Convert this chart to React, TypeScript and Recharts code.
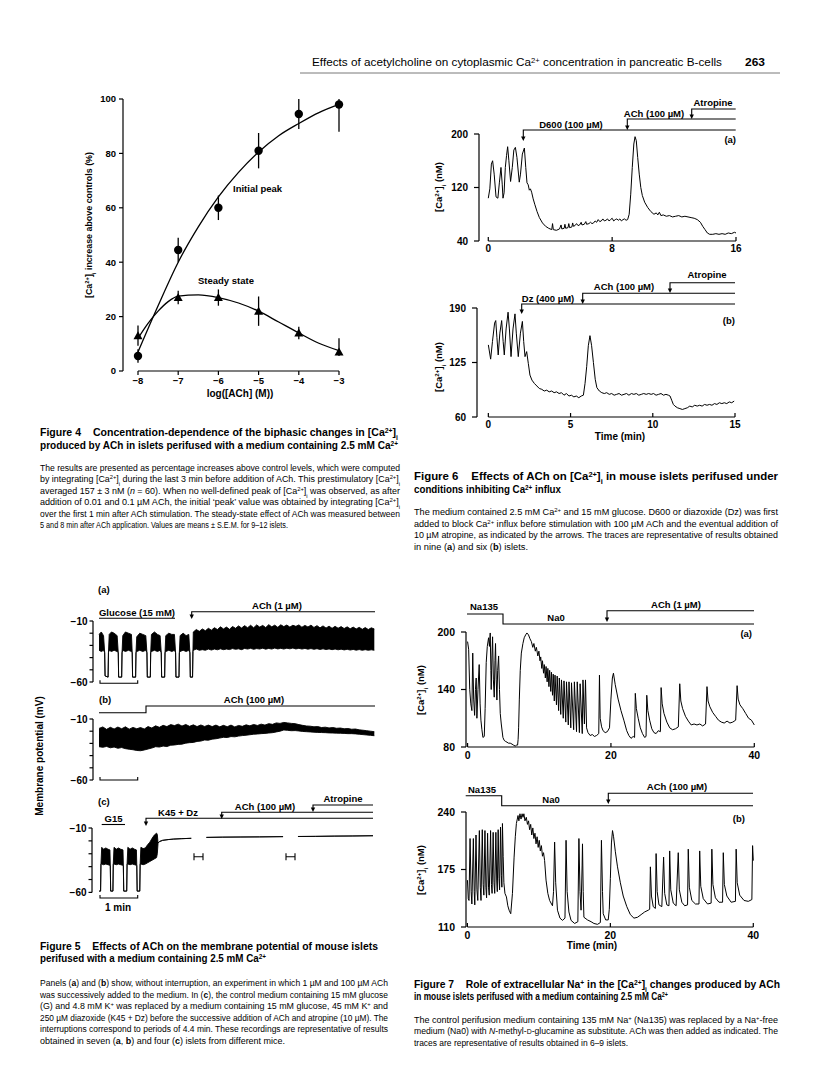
import React from "react";
import {
  Area,
  ComposedChart,
  ErrorBar,
  Line,
  LineChart,
  ReferenceLine,
  Scatter,
  XAxis,
  YAxis,
} from "recharts";

// ---------- Figure 4 ----------
const logAch = [-8, -7, -6, -5, -4, -3];
const peakMean = [5.5, 44.5, 60, 81, 94.5, 98];
const peakSemLow = [2.5, 4.5, 4.5, 6.5, 5.5, 10];
const peakSemHigh = [2.5, 4.5, 4.5, 6.5, 5.5, 2];
const steadyMean = [13, 27, 27, 22, 14, 7];
const steadySemLow = [3.7, 2.5, 3, 5.4, 2.3, 1.5];
const steadySemHigh = [3.7, 2.5, 3, 5.4, 2.3, 5];
const fitX = [-8, -7.5, -7, -6.5, -6, -5.5, -5, -4.5, -4, -3.5, -3];
const peakFit = [7, 24, 40, 53, 64, 73, 80.5, 86.5, 91, 95, 98];
const steadyFitX = [-8, -7.75, -7.5, -7.25, -7, -6.5, -6, -5.5, -5, -4.5, -4, -3.5, -3];
const steadyFit = [12, 17.5, 22, 25.5, 27.5, 28, 27, 25, 22, 18, 14, 10.2, 7.5];

// ---------- Figure 6 ----------
const ca6a = [
  [0, 104], [0.1, 118], [0.2, 155], [0.28, 160], [0.38, 140], [0.5, 106], [0.62, 104], [0.72, 128],
  [0.82, 150], [0.9, 125], [0.95, 104], [1.02, 112], [1.1, 150], [1.18, 168], [1.25, 181], [1.33, 160],
  [1.44, 129], [1.55, 150], [1.65, 176], [1.75, 180], [1.85, 165], [2.0, 128], [2.08, 140], [2.2, 170],
  [2.33, 179], [2.42, 150], [2.5, 127], [2.58, 124], [2.65, 116], [2.72, 118], [2.8, 113], [2.9, 103],
  [3.0, 95], [3.15, 84], [3.3, 75], [3.5, 67], [3.7, 62], [3.9, 59], [4.1, 57], [4.15, 66], [4.2, 57],
  [4.4, 56], [4.6, 58], [4.7, 64], [4.75, 58], [4.9, 59], [4.95, 65], [5.0, 59], [5.15, 60], [5.2, 66],
  [5.25, 60], [5.4, 61], [5.45, 67], [5.5, 62], [5.6, 63], [5.7, 66], [5.8, 63], [5.9, 64], [6.0, 68],
  [6.05, 64], [6.2, 65], [6.3, 69], [6.35, 65], [6.5, 66], [6.6, 68], [6.7, 66], [6.8, 67], [6.9, 70],
  [7.0, 68], [7.1, 72], [7.2, 69], [7.3, 70], [7.4, 73], [7.5, 70], [7.6, 71], [7.7, 73], [7.8, 70],
  [7.9, 72], [8.0, 74], [8.1, 70], [8.2, 72], [8.3, 73], [8.4, 71], [8.5, 73], [8.6, 70], [8.7, 72],
  [8.8, 73], [8.9, 71], [9.0, 72], [9.1, 80], [9.2, 110], [9.3, 150], [9.4, 185], [9.48, 196], [9.56, 190],
  [9.65, 165], [9.75, 140], [9.85, 120], [9.95, 108], [10.1, 98], [10.3, 90], [10.5, 84], [10.7, 80],
  [10.85, 82], [10.95, 79], [11.05, 83], [11.15, 78], [11.3, 79], [11.5, 77], [11.7, 78], [11.9, 76],
  [12.1, 77], [12.3, 78], [12.5, 76], [12.7, 77], [12.9, 76], [13.1, 75], [13.3, 74], [13.5, 72],
  [13.7, 68], [13.85, 62], [14.0, 57], [14.15, 52], [14.3, 50], [14.5, 50], [14.7, 51], [14.9, 50],
  [15.1, 51], [15.3, 50], [15.5, 52], [15.7, 51], [15.9, 53], [16.0, 52],
];
const ca6b = [
  [0, 146], [0.14, 129], [0.25, 150], [0.38, 172], [0.45, 175], [0.52, 155], [0.6, 134], [0.7, 160],
  [0.81, 175], [0.9, 150], [0.97, 134], [1.08, 165], [1.2, 185], [1.28, 165], [1.38, 132], [1.5, 165],
  [1.62, 183], [1.7, 160], [1.82, 132], [1.95, 160], [2.07, 174], [2.15, 150], [2.23, 132], [2.33, 138],
  [2.43, 124], [2.53, 110], [2.65, 104], [2.8, 100], [2.95, 97], [3.1, 94], [3.25, 93], [3.4, 91],
  [3.55, 92], [3.7, 90], [3.85, 91], [4.0, 89], [4.15, 90], [4.3, 88], [4.45, 89], [4.6, 86], [4.75, 88],
  [4.9, 85], [5.05, 86], [5.2, 84], [5.35, 85], [5.5, 83], [5.65, 85], [5.78, 86], [5.88, 100], [5.98, 120],
  [6.08, 145], [6.18, 157], [6.28, 145], [6.39, 125], [6.5, 105], [6.6, 95], [6.75, 91], [6.9, 89],
  [7.05, 88], [7.2, 89], [7.35, 87], [7.5, 88], [7.65, 86], [7.8, 87], [7.95, 88], [8.1, 86], [8.25, 87],
  [8.4, 88], [8.55, 86], [8.7, 88], [8.85, 87], [9.0, 88], [9.15, 86], [9.3, 87], [9.45, 88], [9.6, 87],
  [9.75, 88], [9.9, 87], [10.05, 88], [10.2, 86], [10.35, 87], [10.5, 88], [10.65, 86], [10.8, 87],
  [10.95, 86], [11.05, 85], [11.15, 80], [11.25, 75], [11.35, 73], [11.5, 71], [11.65, 70], [11.8, 69],
  [11.95, 70], [12.1, 71], [12.25, 73], [12.4, 72], [12.55, 74], [12.7, 73], [12.85, 74], [13.0, 73],
  [13.15, 75], [13.3, 74], [13.45, 75], [13.6, 74], [13.75, 76], [13.9, 75], [14.05, 77], [14.2, 76],
  [14.35, 77], [14.5, 76], [14.65, 78], [14.8, 77], [14.95, 79],
];

// ---------- Figure 5 (membrane potential, [t, low, high]) ----------
const mp5a = [
  [0, -34, -21], [0.06, -35, -19], [0.12, -34, -22], [0.15, -36, -36], [0.16, -55, -55], [0.24, -56, -56],
  [0.25, -36, -36], [0.27, -34, -21], [0.33, -35, -19], [0.4, -34, -20], [0.48, -35, -22], [0.51, -36, -36],
  [0.52, -56, -56], [0.6, -56, -56], [0.61, -36, -36], [0.63, -34, -22], [0.7, -35, -19], [0.78, -34, -20],
  [0.86, -35, -21], [0.88, -36, -36], [0.89, -56, -56], [0.97, -56, -56], [0.98, -36, -36], [1.0, -35, -23],
  [1.08, -34, -20], [1.16, -35, -21], [1.24, -34, -22], [1.27, -36, -36], [1.28, -56, -56], [1.36, -56, -56],
  [1.37, -36, -36], [1.39, -35, -21], [1.47, -34, -19], [1.55, -35, -21], [1.62, -34, -22], [1.65, -36, -36],
  [1.66, -56, -56], [1.74, -56, -56], [1.75, -36, -36], [1.77, -35, -22], [1.85, -34, -20], [1.93, -35, -21],
  [2.0, -34, -21], [2.03, -36, -36], [2.04, -56, -56], [2.12, -56, -56], [2.13, -36, -36], [2.15, -35, -22],
  [2.23, -34, -20], [2.31, -35, -22], [2.38, -34, -21], [2.41, -36, -36], [2.42, -56, -56], [2.48, -56, -56],
  [2.49, -35, -35], [2.5, -34, -19], [2.58, -33, -17], [2.66, -34, -18.5], [2.74, -33.5, -16.5],
  [2.82, -34, -18], [2.9, -33, -16], [2.98, -33.8, -17.5], [3.06, -33, -15.5], [3.14, -33.6, -17],
  [3.22, -32.8, -14.8], [3.3, -33.5, -16.5], [3.38, -33, -15], [3.46, -33.4, -16.8], [3.54, -32.6, -14.5],
  [3.62, -33.2, -16], [3.7, -32.8, -14], [3.78, -33.5, -15.8], [3.86, -32.5, -13.8], [3.94, -33, -15.5],
  [4.02, -32.4, -13.5], [4.1, -33.2, -15.6], [4.18, -32.6, -13.2], [4.26, -33, -15], [4.34, -32.3, -13.6],
  [4.42, -33.1, -15.4], [4.5, -32.5, -13], [4.58, -33, -14.8], [4.66, -32.2, -13.4], [4.74, -32.9, -15.2],
  [4.82, -32.4, -13.1], [4.9, -33, -14.6], [4.98, -32.3, -13.3], [5.06, -32.8, -15], [5.14, -32.2, -13.5],
  [5.22, -32.9, -14.4], [5.3, -32.4, -13.2], [5.38, -33, -15.1], [5.46, -32.5, -13.6], [5.54, -33.1, -14.9],
  [5.62, -32.6, -13.4], [5.7, -33.2, -15.3], [5.78, -32.7, -13.8], [5.86, -33.3, -15.6], [5.94, -32.8, -14],
  [6.02, -33.4, -15.8], [6.1, -32.9, -14.2], [6.18, -33.5, -16], [6.26, -33, -14.4], [6.34, -33.6, -15.9],
  [6.42, -33.1, -14.6], [6.5, -33.7, -16.2], [6.58, -33.2, -14.8], [6.66, -33.8, -16.4], [6.74, -33.3, -15],
  [6.82, -33.9, -16.5], [6.9, -33.4, -15.2], [6.98, -34, -16.8], [7.06, -33.5, -15.4], [7.14, -34, -17],
  [7.22, -33.6, -15.6], [7.3, -34, -16.5],
];
const mp5b = [
  [0, -32.7, -17.7], [0.1, -33.2, -16.5], [0.2, -32.5, -18.5], [0.3, -33.6, -16.8], [0.4, -33, -18.2],
  [0.5, -34, -16.6], [0.6, -33.4, -18], [0.7, -34.3, -16.4], [0.8, -34.8, -18.3], [0.9, -35.2, -16.9],
  [1.0, -35.8, -18], [1.1, -36, -17], [1.2, -35.4, -18.2], [1.3, -34.6, -16.2], [1.4, -33.8, -17.4],
  [1.5, -32.7, -15.6], [1.6, -33, -16.8], [1.7, -32.2, -15.2], [1.8, -32.6, -16.2], [1.9, -31.5, -14.6],
  [2.0, -31.3, -15.4], [2.1, -30.8, -14.2], [2.2, -30.6, -15.8], [2.3, -29.8, -14.5], [2.4, -29.4, -16],
  [2.5, -29.2, -14.8], [2.6, -28.4, -16.2], [2.7, -28.1, -14.9], [2.8, -27.2, -16.1], [2.9, -27.4, -15],
  [3.0, -26.5, -16.2], [3.1, -26.2, -15], [3.2, -25.6, -16.4], [3.3, -25, -15.2], [3.4, -25.2, -16.3],
  [3.5, -24.4, -15], [3.6, -24.6, -16.5], [3.7, -24, -15.3], [3.8, -23.6, -16], [3.9, -23.3, -14.8],
  [4.0, -22.9, -15.6], [4.1, -22.5, -14.5], [4.2, -22.3, -15.3], [4.3, -22, -14.2], [4.4, -21.8, -15],
  [4.5, -21.5, -13.8], [4.6, -21.2, -14.4], [4.7, -20.6, -13.2], [4.8, -20, -13.6], [4.9, -19, -12.8],
  [5.0, -19.3, -13.2], [5.1, -19.6, -13.6], [5.2, -19.5, -13.8], [5.3, -19.8, -14.6], [5.4, -20.2, -15.2],
  [5.5, -20.4, -15.7], [5.6, -20.6, -15.9], [5.7, -20.8, -16.4], [5.8, -21, -16.2], [5.9, -21.1, -17],
  [6.0, -21.2, -16.7], [6.1, -21.4, -17.3], [6.2, -21.5, -17], [6.3, -21.6, -17.6], [6.4, -21.7, -17.4],
  [6.5, -21.8, -18], [6.6, -22, -17.8], [6.7, -22, -18.4], [6.8, -22.2, -18.2], [6.9, -22.5, -18.9],
  [7.0, -22.8, -19.2], [7.1, -23.1, -19.6], [7.2, -23.4, -20], [7.3, -23.7, -20.4],
];
const mp5c = [
  [0, -59, -59], [0.04, -59, -59], [0.05, -38, -38], [0.07, -38, -25], [0.12, -38.5, -26.5], [0.18, -38, -25.5],
  [0.24, -38.5, -26.5], [0.29, -39, -27], [0.3, -39, -39], [0.31, -59, -59], [0.37, -59, -59], [0.38, -38, -38],
  [0.4, -38, -25], [0.46, -38.5, -26.5], [0.52, -38, -25.5], [0.58, -38.5, -26.5], [0.64, -39, -27],
  [0.65, -39, -39], [0.66, -59, -59], [0.74, -59, -59], [0.75, -38, -38], [0.77, -38, -25], [0.83, -38.5, -26.5],
  [0.89, -38, -25.5], [0.95, -38.5, -26.5], [1.0, -39, -27], [1.01, -39, -39], [1.02, -59, -59], [1.09, -59, -59],
  [1.1, -38, -38], [1.12, -38, -25], [1.18, -38.5, -26], [1.24, -38, -25.5], [1.3, -37, -23], [1.36, -36, -21],
  [1.42, -35, -18], [1.48, -34, -15.5], [1.54, -33, -14], [1.56, -30, -15], [1.58, -21.7, -21.7],
  [1.62, -20.5, -20.5], [1.7, -19.6, -19.6], [1.85, -19, -19], [2.0, -18.6, -18.6], [2.2, -18.3, -18.3],
  [2.47, -18, -18], [2.48, null, null], [2.87, null, null], [2.875, -17.3, -17.3], [3.3, -17.1, -17.1],
  [3.8, -17, -17], [4.3, -16.9, -16.9], [4.93, -16.7, -16.7], [4.94, null, null], [5.32, null, null],
  [5.33, -16.6, -16.6], [5.8, -16.5, -16.5], [6.3, -16.3, -16.3], [6.8, -16.2, -16.2], [7.34, -16, -16],
];

// ---------- Figure 7 ----------
const ca7a = [
  [0, 190], [0.15, 182], [0.3, 140], [0.45, 125], [0.6, 118], [0.72, 178], [0.85, 130], [0.98, 113],
  [1.1, 140], [1.2, 152], [1.3, 110], [1.45, 140], [1.62, 166], [1.75, 125], [1.86, 108], [2.0, 98],
  [2.14, 90], [2.33, 91], [2.45, 120], [2.6, 168], [2.75, 185], [2.93, 194], [3.05, 185], [3.16, 199],
  [3.25, 160], [3.3, 140], [3.4, 175], [3.49, 195], [3.6, 150], [3.72, 132], [3.82, 170], [3.9, 188],
  [4.0, 150], [4.09, 129], [4.2, 160], [4.33, 175], [4.45, 140], [4.56, 115], [4.7, 104], [4.93, 90],
  [5.1, 87], [5.26, 86], [5.5, 85], [5.7, 84], [5.95, 84], [6.2, 83], [6.4, 82], [6.65, 81], [6.85, 82],
  [6.98, 82], [7.05, 88], [7.12, 100], [7.22, 130], [7.35, 160], [7.5, 178], [7.72, 188], [7.9, 194],
  [8.1, 197], [8.28, 199], [8.5, 197], [8.7, 193], [8.9, 190], [9.1, 184], [9.25, 188], [9.45, 180],
  [9.6, 184], [9.8, 175], [9.95, 180], [10.1, 170], [10.2, 174], [10.35, 162], [10.45, 170], [10.6, 157],
  [10.7, 166], [10.85, 152], [10.95, 164], [11.1, 148], [11.2, 162], [11.35, 143], [11.45, 160], [11.6, 138],
  [11.7, 158], [11.85, 134], [11.95, 156], [12.1, 128], [12.2, 155], [12.4, 124], [12.5, 154], [12.7, 118],
  [12.8, 152], [13.0, 114], [13.1, 150], [13.35, 110], [13.45, 149], [13.7, 106], [13.8, 148], [14.05, 103],
  [14.15, 148], [14.4, 100], [14.5, 147], [14.8, 98], [14.9, 148], [15.2, 96], [15.3, 148], [15.6, 95],
  [15.7, 146], [16.0, 94], [16.1, 150], [16.3, 104], [16.45, 150], [16.6, 100], [16.8, 95], [17.1, 92],
  [17.4, 93], [17.7, 91], [18.0, 92], [18.3, 94], [18.4, 155], [18.5, 110], [18.7, 101], [18.9, 97],
  [19.2, 95], [19.5, 96], [19.8, 100], [20.0, 130], [20.2, 152], [20.35, 157], [20.6, 145], [21.0, 130],
  [21.4, 118], [21.8, 108], [22.2, 97], [22.5, 92], [22.8, 89], [23.1, 91], [23.3, 90], [23.4, 136],
  [23.55, 120], [23.8, 110], [24.1, 100], [24.4, 94], [24.7, 90], [24.9, 91], [25.0, 134], [25.15, 118],
  [25.4, 108], [25.7, 99], [26.0, 95], [26.3, 94], [26.6, 97], [26.9, 96], [27.0, 142], [27.15, 125],
  [27.4, 115], [27.8, 106], [28.2, 100], [28.6, 98], [29.0, 99], [29.4, 101], [29.6, 146], [29.75, 128],
  [30.0, 120], [30.4, 112], [30.8, 107], [31.2, 103], [31.6, 104], [32.0, 103], [32.4, 104], [32.8, 102],
  [33.2, 104], [33.4, 143], [33.55, 128], [33.8, 122], [34.2, 116], [34.6, 112], [35.0, 108], [35.4, 106],
  [35.8, 105], [36.2, 107], [36.6, 105], [37.0, 106], [37.4, 108], [37.6, 144], [37.75, 130], [38.0, 124],
  [38.4, 120], [38.8, 115], [39.2, 110], [39.6, 108], [40.0, 103],
];
const ca7b = [
  [0, 163], [0.12, 142], [0.22, 140], [0.37, 210], [0.52, 150], [0.62, 136], [0.83, 210], [0.95, 150],
  [1.03, 135], [1.2, 214], [1.33, 152], [1.45, 140], [1.67, 219], [1.8, 155], [1.9, 140], [2.08, 220],
  [2.2, 158], [2.3, 146], [2.45, 219], [2.58, 155], [2.68, 143], [2.82, 216], [2.95, 155], [3.05, 146],
  [3.24, 219], [3.36, 158], [3.45, 148], [3.6, 217], [3.72, 160], [3.82, 148], [3.98, 217], [4.1, 162],
  [4.18, 150], [4.3, 220], [4.42, 165], [4.5, 152], [4.63, 223], [4.75, 168], [4.82, 155], [4.9, 227],
  [5.0, 190], [5.1, 160], [5.25, 148], [5.46, 144], [5.65, 134], [5.83, 129], [6.06, 125], [6.3, 148],
  [6.53, 189], [6.7, 212], [6.85, 227], [7.08, 236], [7.2, 230], [7.35, 238], [7.5, 232], [7.65, 238],
  [7.78, 234], [7.9, 238], [8.05, 230], [8.24, 234], [8.4, 226], [8.55, 230], [8.7, 220], [8.85, 226],
  [9.0, 214], [9.15, 222], [9.3, 210], [9.45, 216], [9.6, 204], [9.75, 212], [9.9, 200], [10.05, 208],
  [10.2, 196], [10.35, 202], [10.5, 190], [10.65, 194], [10.8, 185], [11.0, 163], [11.25, 148], [11.5, 140],
  [11.9, 134], [12.05, 150], [12.2, 206], [12.35, 160], [12.6, 129], [12.95, 120], [13.3, 117.5], [13.65, 120],
  [13.8, 208], [13.95, 150], [14.2, 127], [14.5, 117.5], [15.0, 114], [15.45, 116], [15.6, 210], [15.75, 150],
  [15.9, 129], [16.05, 180], [16.1, 204], [16.2, 150], [16.3, 121], [16.8, 118], [17.3, 116], [17.7, 114],
  [18.2, 113], [18.6, 115], [18.75, 208], [18.9, 150], [19.0, 125], [19.35, 118], [19.7, 118], [19.85, 130],
  [20.0, 165], [20.15, 205], [20.3, 219], [20.45, 212], [20.7, 195], [21.0, 178], [21.4, 160], [21.8, 145],
  [22.3, 133], [22.8, 124], [23.3, 120], [23.8, 121], [24.3, 124], [24.8, 127], [25.3, 129], [25.5, 130],
  [25.6, 178], [25.75, 145], [26.0, 133], [26.3, 131], [26.4, 193], [26.55, 150], [26.8, 135], [27.2, 133],
  [27.45, 189], [27.6, 148], [27.9, 135], [28.2, 134], [28.3, 196], [28.45, 152], [28.8, 137], [29.2, 134],
  [29.5, 194], [29.65, 152], [30.0, 138], [30.4, 134], [30.8, 135], [30.9, 198], [31.05, 155], [31.4, 140],
  [31.9, 136], [32.4, 136], [32.5, 196], [32.65, 156], [33.0, 142], [33.6, 136], [34.1, 137], [34.2, 198],
  [34.35, 158], [34.7, 143], [35.2, 138], [35.7, 138], [35.8, 194], [35.95, 158], [36.3, 145], [36.9, 138],
  [37.5, 139], [37.6, 198], [37.75, 160], [38.1, 146], [38.7, 140], [39.3, 139], [39.8, 141], [39.9, 202],
  [40.0, 185],
];

const peakPts = logAch.map((x, i) => ({ x, y: peakMean[i], e: [peakSemLow[i], peakSemHigh[i]] }));
const steadyPts = logAch.map((x, i) => ({ x, y: steadyMean[i], e: [steadySemLow[i], steadySemHigh[i]] }));
const peakCurve = fitX.map((x, i) => ({ x, y: peakFit[i] }));
const steadyCurve = steadyFitX.map((x, i) => ({ x, y: steadyFit[i] }));
const toTrace = (a) => a.map(([t, v]) => ({ t, v }));
const toBand = (a) => a.map(([t, lo, hi]) => ({ t, band: lo == null ? null : [lo, hi] }));

const SANS = "'Liberation Sans', Arial, Helvetica, sans-serif";
const NARROW = "'Liberation Sans Narrow', 'Liberation Sans', Arial, sans-serif";
const PL = 60, PR = 12, PT = 12, PB = 30;
const ax = { stroke: "#000", strokeWidth: 1.2 };
const tk = (s) => ({ fill: "#000", fontSize: s, fontWeight: 700, fontFamily: SANS });
const minus = (v) => (v < 0 ? "\u2212" + -v : String(v));

function Frame({ box, children }) {
  return <div style={{ position: "absolute", left: box[0] - PL, top: box[1] - PT }}>{children}</div>;
}
const dims = (b) => ({ width: b[2] - b[0] + PL + PR, height: b[3] - b[1] + PT + PB });

function CaTrace({ box, data, xDomain, xTicks, yDomain, yTicks, fs, xMargin }) {
  return (
    <Frame box={box}>
      <LineChart {...dims(box)} data={toTrace(data)} margin={{ top: PT, right: PR, bottom: 0, left: 0 }}>
        <XAxis dataKey="t" type="number" domain={xDomain} ticks={xTicks} interval={0} height={PB}
          axisLine={false} tickLine={ax} tickSize={-4} tickMargin={xMargin} tick={tk(fs)} />
        <YAxis type="number" domain={yDomain} ticks={yTicks} interval={0} width={PL}
          axisLine={ax} tickLine={ax} tickSize={5} tickMargin={6} tick={tk(fs)} />
        <ReferenceLine segment={[{ x: 0, y: yDomain[0] }, { x: xTicks[xTicks.length - 1], y: yDomain[0] }]} stroke="#000" strokeWidth={1.2} />
        <Line dataKey="v" type="linear" stroke="#000" strokeWidth={1} dot={false} activeDot={false} isAnimationActive={false} />
      </LineChart>
    </Frame>
  );
}

function MpTrace({ box, data, xDomain }) {
  return (
    <Frame box={box}>
      <ComposedChart {...dims(box)} data={toBand(data)} margin={{ top: PT, right: PR, bottom: PB, left: 0 }}>
        <XAxis dataKey="t" type="number" domain={xDomain} hide />
        <YAxis type="number" domain={[-60, -10]} ticks={[-60, -50, -40, -30, -20, -10]} interval={0} width={PL}
          axisLine={ax} tickLine={ax} tickSize={3.5} tickMargin={2} tick={tk(10)}
          tickFormatter={(v) => (v === -10 || v === -60 ? minus(v) : "")} />
        <Area dataKey="band" type="linear" stroke="#000" strokeWidth={0.9} fill="#000" fillOpacity={1}
          dot={false} activeDot={false} isAnimationActive={false} />
      </ComposedChart>
    </Frame>
  );
}

const Sup = ({ c }) => <tspan baselineShift="super" fontSize="65%">{c}</tspan>;
const Sub = ({ c }) => <tspan baselineShift="sub" fontSize="65%">{c}</tspan>;
const Ca = () => (<>[Ca<Sup c="2+" />]<Sub c="i" /></>);
const Fig = ({ n }) => (<>Figure {n}<tspan dx={9}> </tspan></>);

function T({ x, y, s = 9.5, w = 700, a = "start", f = SANS, len, rot, children }) {
  return (
    <text x={x} y={y} fontSize={s} fontWeight={w} textAnchor={a} fontFamily={f} fill="#000"
      textLength={len} lengthAdjust={len ? "spacingAndGlyphs" : undefined}
      transform={rot ? `rotate(-90 ${x} ${y})` : undefined}>{children}</text>
  );
}
function Drug({ x1, x2, y, to }) {
  return (
    <g>
      <polyline points={`${x2},${y} ${x1},${y} ${x1},${to - 3}`} fill="none" stroke="#000" strokeWidth={1.1} />
      <polygon points={`${x1 - 2.2},${to - 4.5} ${x1 + 2.2},${to - 4.5} ${x1},${to}`} fill="#000" />
    </g>
  );
}
const Scale = ({ y }) => <path d={`M100,${y - 3} V${y} H137.7 V${y - 3}`} fill="none" stroke="#000" strokeWidth={1.1} />;
const Gap = ({ x, y }) => <path d={`M${x},${y - 3.5} V${y + 3.5} M${x},${y} H${x + 9} M${x + 9},${y - 3.5} V${y + 3.5}`} stroke="#000" strokeWidth={1.1} fill="none" />;

const B = ({ c }) => <tspan fontWeight={700}>{c}</tspan>;

function Overlay() {
  const cap = { s: 9.6, w: 400, f: NARROW };
  const ttl = { s: 10.6, w: 700, f: NARROW };
  return (
    <svg width={816} height={1089} style={{ position: "absolute", left: 0, top: 0, pointerEvents: "none" }}>
      {/* running head */}
      <T x={312} y={66} s={10.5} w={400} f={NARROW} len={410}>Effects of acetylcholine on cytoplasmic Ca<Sup c="2+" /> concentration in pancreatic B-cells</T>
      <T x={745} y={66} s={10.5} w={700} len={20}>263</T>
      <line x1={300} y1={73} x2={780} y2={73} stroke="#555" strokeWidth={0.8} />

      {/* Figure 4 labels */}
      <T x={91.7} y={225} rot a="middle" len={146}><Ca /> increase above controls (%)</T>
      <T x={240} y={397} a="middle" s={10}>log([ACh] (M))</T>
      <T x={233} y={191.5}>Initial peak</T>
      <T x={198} y={283.5}>Steady state</T>

      {/* Figure 4 caption */}
      <T x={40} y={435.5} {...ttl} len={358}><Fig n={4} />Concentration-dependence of the biphasic changes in <Ca /></T>
      <T x={40} y={448.5} {...ttl} len={358}>produced by ACh in islets perifused with a medium containing 2.5 mM Ca<Sup c="2+" /></T>
      <T x={40} y={470.5} {...cap} len={360}>The results are presented as percentage increases above control levels, which were computed</T>
      <T x={40} y={482} {...cap} len={360}>by integrating <Ca /> during the last 3 min before addition of ACh. This prestimulatory <Ca /></T>
      <T x={40} y={493.5} {...cap} len={360}>averaged 157 ± 3 nM (<tspan fontStyle="italic">n</tspan> = 60). When no well-defined peak of <Ca /> was observed, as after</T>
      <T x={40} y={505} {...cap} len={360}>addition of 0.01 and 0.1 µM ACh, the initial ‘peak’ value was obtained by integrating <Ca /></T>
      <T x={40} y={516.5} {...cap} len={360}>over the first 1 min after ACh stimulation. The steady-state effect of ACh was measured between</T>
      <T x={40} y={528} {...cap} len={248}>5 and 8 min after ACh application. Values are means ± S.E.M. for 9–12 islets.</T>

      {/* Figure 6 labels */}
      <T x={441.7} y={187} rot a="middle"><Ca /> (nM)</T>
      <T x={441.7} y={367} rot a="middle"><Ca /> (nM)</T>
      <Drug x1={523.3} x2={735.7} y={130} to={141} />
      <Drug x1={627.3} x2={735.7} y={119} to={130} />
      <Drug x1={691.7} x2={735.7} y={109} to={119} />
      <T x={571} y={127.5} a="middle">D600 (100 µM)</T>
      <T x={654} y={116.5} a="middle">ACh (100 µM)</T>
      <T x={713} y={105.5} a="middle">Atropine</T>
      <T x={736} y={142.5} a="end">(a)</T>
      <Drug x1={521.7} x2={735} y={304} to={314} />
      <Drug x1={582.7} x2={735} y={293.3} to={304} />
      <Drug x1={670} x2={735} y={282.7} to={293} />
      <T x={548} y={301.5} a="middle">Dz (400 µM)</T>
      <T x={624} y={289.5} a="middle">ACh (100 µM)</T>
      <T x={707} y={277.5} a="middle">Atropine</T>
      <T x={735} y={324} a="end">(b)</T>
      <T x={620} y={440} a="middle" s={10}>Time (min)</T>

      {/* Figure 6 caption */}
      <T x={414} y={479.5} {...ttl} len={364}><Fig n={6} />Effects of ACh on <Ca /> in mouse islets perifused under</T>
      <T x={414} y={492.5} {...ttl} len={147}>conditions inhibiting Ca<Sup c="2+" /> influx</T>
      <T x={414} y={514.5} {...cap} len={364}>The medium contained 2.5 mM Ca<Sup c="2+" /> and 15 mM glucose. D600 or diazoxide (Dz) was first</T>
      <T x={414} y={526.5} {...cap} len={364}>added to block Ca<Sup c="2+" /> influx before stimulation with 100 µM ACh and the eventual addition of</T>
      <T x={414} y={537.5} {...cap} len={364}>10 µM atropine, as indicated by the arrows. The traces are representative of results obtained</T>
      <T x={414} y={549.5} {...cap} len={114}>in nine (<B c="a" />) and six (<B c="b" />) islets.</T>

      {/* Figure 5 labels */}
      <T x={43} y={756} rot a="middle" s={10}>Membrane potential (mV)</T>
      <T x={98} y={593}>(a)</T>
      <line x1={99} y1={618.3} x2={175} y2={618.3} stroke="#000" strokeWidth={1.1} />
      <T x={137} y={615.5} a="middle">Glucose (15 mM)</T>
      <Drug x1={191.7} x2={375} y={611.7} to={619} />
      <T x={277} y={609} a="middle">ACh (1 µM)</T>
      <Scale y={683.3} />
      <T x={99} y={702.5}>(b)</T>
      <polyline points="99,712.7 146,712.7 146,706 375,706" fill="none" stroke="#000" strokeWidth={1.1} />
      <T x={254} y={703} a="middle">ACh (100 µM)</T>
      <Scale y={780} />
      <T x={98} y={805}>(c)</T>
      <T x={113.5} y={821.5} a="middle">G15</T>
      <line x1={101.7} y1={824.5} x2={125} y2={824.5} stroke="#000" strokeWidth={1.1} />
      <Drug x1={146} x2={373} y={818.3} to={826} />
      <Drug x1={221.7} x2={373} y={812.3} to={819} />
      <Drug x1={313} x2={373} y={805} to={812} />
      <T x={178} y={816} a="middle">K45 + Dz</T>
      <T x={265} y={809.5} a="middle">ACh (100 µM)</T>
      <T x={343} y={801.5} a="middle">Atropine</T>
      <Gap x={194} y={856.7} />
      <Gap x={286} y={856.7} />
      <Scale y={898} />
      <T x={118} y={911} a="middle" s={10}>1 min</T>

      {/* Figure 5 caption */}
      <T x={40} y={949.5} {...ttl} len={338}><Fig n={5} />Effects of ACh on the membrane potential of mouse islets</T>
      <T x={40} y={961.5} {...ttl} len={226}>perifused with a medium containing 2.5 mM Ca<Sup c="2+" /></T>
      <T x={40} y={985.5} {...cap} len={348}>Panels (<B c="a" />) and (<B c="b" />) show, without interruption, an experiment in which 1 µM and 100 µM ACh</T>
      <T x={40} y={997.5} {...cap} len={348}>was successively added to the medium. In (<B c="c" />), the control medium containing 15 mM glucose</T>
      <T x={40} y={1008.5} {...cap} len={348}>(G) and 4.8 mM K<Sup c="+" /> was replaced by a medium containing 15 mM glucose, 45 mM K<Sup c="+" /> and</T>
      <T x={40} y={1020.5} {...cap} len={348}>250 µM diazoxide (K45 + Dz) before the successive addition of ACh and atropine (10 µM). The</T>
      <T x={40} y={1031.5} {...cap} len={348}>interruptions correspond to periods of 4.4 min. These recordings are representative of results</T>
      <T x={40} y={1043.5} {...cap} len={245}>obtained in seven (<B c="a" />, <B c="b" />) and four (<B c="c" />) islets from different mice.</T>

      {/* Figure 7 labels */}
      <T x={424} y={690} rot a="middle"><Ca /> (nM)</T>
      <T x={424} y={870} rot a="middle"><Ca /> (nM)</T>
      <T x={484} y={610} a="middle">Na135</T>
      <polyline points="467,614 503,614 503,624 754,624" fill="none" stroke="#000" strokeWidth={1.1} />
      <T x={556} y={621} a="middle">Na0</T>
      <Drug x1={607} x2={754} y={610.7} to={622} />
      <T x={676} y={608} a="middle">ACh (1 µM)</T>
      <T x={752} y={637} a="end">(a)</T>
      <T x={482} y={792.5} a="middle">Na135</T>
      <polyline points="465.7,795.7 501.7,795.7 501.7,805.7 753,805.7" fill="none" stroke="#000" strokeWidth={1.1} />
      <T x={551} y={803} a="middle">Na0</T>
      <Drug x1={608.3} x2={753} y={793.3} to={804} />
      <T x={677} y={789.5} a="middle">ACh (100 µM)</T>
      <T x={745} y={822} a="end">(b)</T>
      <T x={592} y={949} a="middle" s={10}>Time (min)</T>

      {/* Figure 7 caption */}
      <T x={414} y={987.5} {...ttl} len={366}><Fig n={7} />Role of extracellular Na<Sup c="+" /> in the <Ca /> changes produced by ACh</T>
      <T x={414} y={999.5} {...ttl} len={254}>in mouse islets perifused with a medium containing 2.5 mM Ca<Sup c="2+" /></T>
      <T x={414} y={1022.5} {...cap} len={364}>The control perifusion medium containing 135 mM Na<Sup c="+" /> (Na135) was replaced by a Na<Sup c="+" />-free</T>
      <T x={414} y={1033.5} {...cap} len={364}>medium (Na0) with <tspan fontStyle="italic">N</tspan>-methyl-<tspan fontSize="80%">D</tspan>-glucamine as substitute. ACh was then added as indicated. The</T>
      <T x={414} y={1045.5} {...cap} len={214}>traces are representative of results obtained in 6–9 islets.</T>
    </svg>
  );
}

export default function App() {
  const F4 = [123, 99, 339, 371];
  return (
    <div style={{ position: "absolute", left: 0, top: 0, width: 816, height: 1089, background: "#fff", overflow: "hidden" }}>
      {/* Figure 4 */}
      <Frame box={F4}>
        <ComposedChart {...dims(F4)} margin={{ top: PT, right: PR, bottom: 0, left: 0 }}>
          <XAxis dataKey="x" type="number" domain={[-8.373, -3]} ticks={logAch} interval={0} height={PB}
            axisLine={false} tickLine={ax} tickSize={4} tickMargin={2} tick={tk(9.5)} tickFormatter={minus} />
          <YAxis dataKey="y" type="number" domain={[0, 100]} ticks={[0, 20, 40, 60, 80, 100]} interval={0} width={PL}
            axisLine={ax} tickLine={ax} tickSize={4} tickMargin={3} tick={tk(9.5)} />
          <ReferenceLine segment={[{ x: -8, y: 0 }, { x: -3, y: 0 }]} stroke="#000" strokeWidth={1.2} />
          <Line data={peakCurve} dataKey="y" type="monotone" stroke="#000" strokeWidth={1.3} dot={false} activeDot={false} isAnimationActive={false} />
          <Line data={steadyCurve} dataKey="y" type="monotone" stroke="#000" strokeWidth={1.3} dot={false} activeDot={false} isAnimationActive={false} />
          <Scatter data={peakPts} dataKey="y" isAnimationActive={false}
            shape={(p) => <circle cx={p.cx} cy={p.cy} r={4.2} fill="#000" />}>
            <ErrorBar dataKey="e" direction="y" width={0} stroke="#000" strokeWidth={1.3} />
          </Scatter>
          <Scatter data={steadyPts} dataKey="y" isAnimationActive={false}
            shape={(p) => <polygon points={`${p.cx},${p.cy - 4.5} ${p.cx - 4.5},${p.cy + 3.5} ${p.cx + 4.5},${p.cy + 3.5}`} fill="#000" />}>
            <ErrorBar dataKey="e" direction="y" width={0} stroke="#000" strokeWidth={1.3} />
          </Scatter>
        </ComposedChart>
      </Frame>

      {/* Figure 6 */}
      <CaTrace box={[479, 134, 736, 241]} data={ca6a} xDomain={[-0.6, 16]} xTicks={[0, 8, 16]} yDomain={[40, 200]} yTicks={[40, 120, 200]} fs={10} xMargin={8} />
      <CaTrace box={[477, 308, 735, 417]} data={ca6b} xDomain={[-0.69, 15]} xTicks={[0, 5, 10, 15]} yDomain={[60, 190]} yTicks={[60, 125, 190]} fs={10} xMargin={8} />

      {/* Figure 5 */}
      <MpTrace box={[93.3, 621, 375, 682]} data={mp5a} xDomain={[-0.16, 7.31]} />
      <MpTrace box={[93.3, 719, 375, 780]} data={mp5b} xDomain={[-0.16, 7.31]} />
      <MpTrace box={[92.3, 828.3, 373.3, 892.7]} data={mp5c} xDomain={[-0.19, 7.34]} />

      {/* Figure 7 */}
      <CaTrace box={[465.7, 631.7, 754, 746.7]} data={ca7a} xDomain={[-0.22, 40]} xTicks={[0, 20, 40]} yDomain={[80, 200]} yTicks={[80, 140, 200]} fs={10.5} xMargin={9} />
      <CaTrace box={[465.7, 811.7, 753, 926.7]} data={ca7b} xDomain={[-0.2, 40]} xTicks={[0, 20, 40]} yDomain={[110, 240]} yTicks={[110, 175, 240]} fs={10.5} xMargin={9} />

      <Overlay />
    </div>
  );
}
